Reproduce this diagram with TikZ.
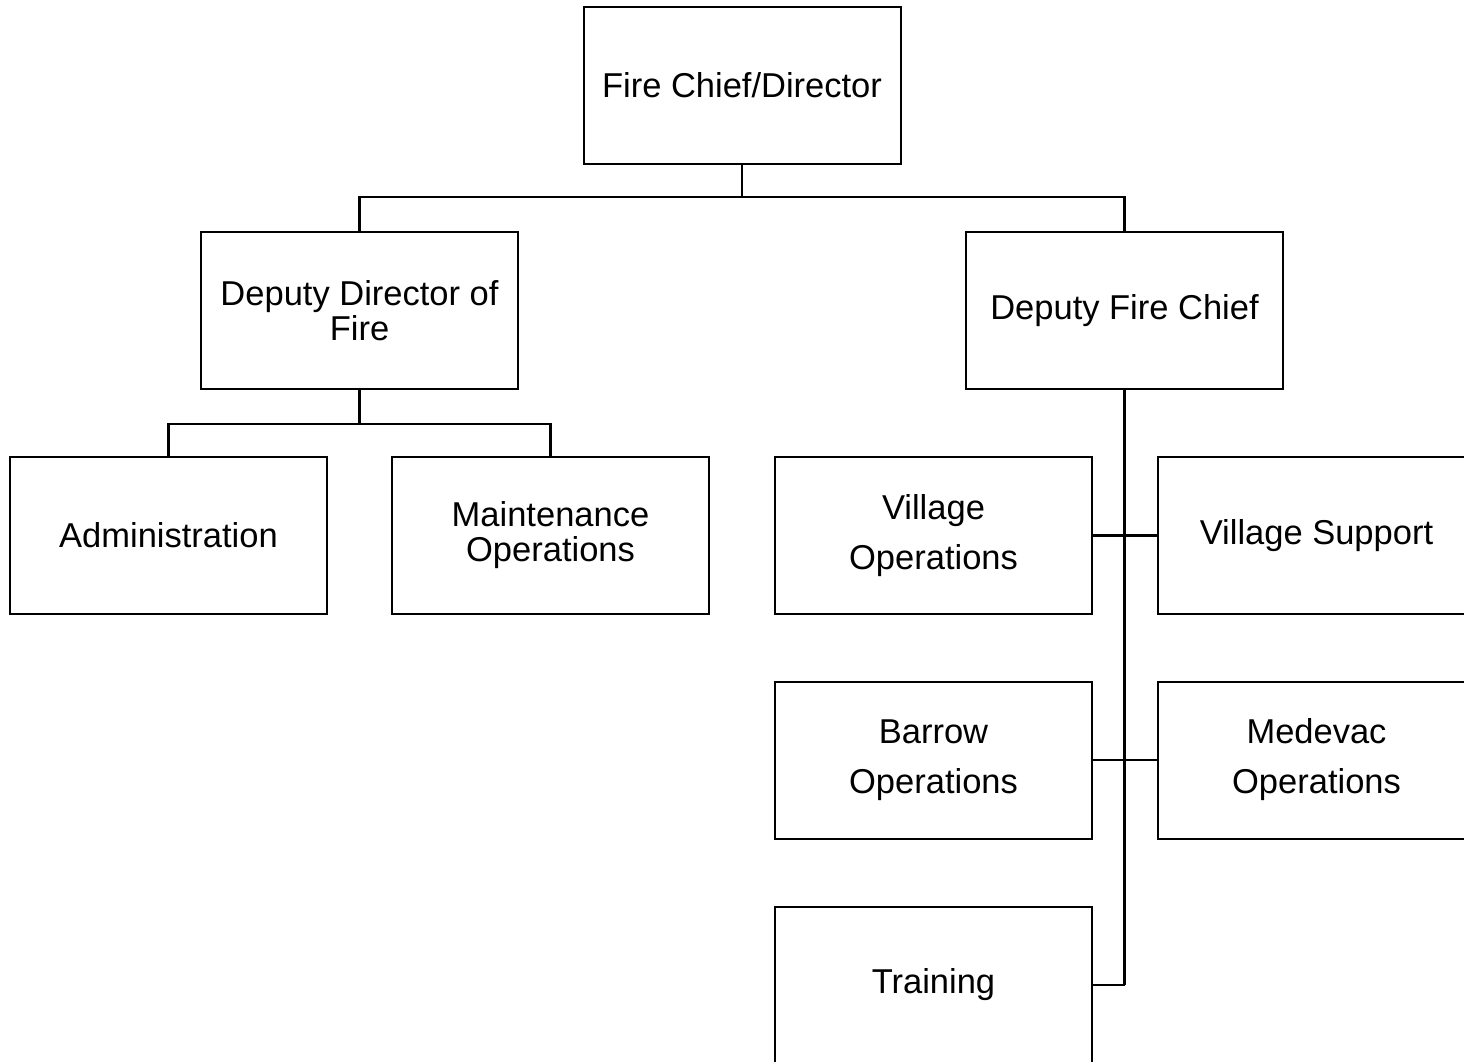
\documentclass[tikz,border=0pt]{standalone}
\usepackage{fontspec}
\setmainfont{Liberation Sans}
\begin{document}
\begin{tikzpicture}[x=1pt,y=-1pt,
  box/.style={draw=black,line width=2pt,minimum width=317pt,minimum height=157pt,inner sep=0pt,align=center,font=\fontsize{34.5}{50}\selectfont},
  tight/.style={font=\fontsize{34.5}{35}\selectfont},
  conn/.style={draw=black,line width=2.4pt}]
\useasboundingbox (0,0) rectangle (1464,1062);
\clip (0,0) rectangle (1464,1062);
\node[box] (chief) at (742,85.5) {Fire Chief/Director};
\node[box,tight] (ddf) at (359.5,310.5) {Deputy Director of\\Fire};
\node[box] (dfc) at (1124.5,310.5) {Deputy Fire Chief};
\node[box] (admin) at (168.5,535.5) {Administration};
\node[box,tight] (maint) at (550.5,535.5) {Maintenance\\Operations};
\node[box] (vops) at (933.5,535.5) {Village\\Operations};
\node[box] (vsup) at (1316.5,535.5) {Village Support};
\node[box] (bops) at (933.5,760) {Barrow\\Operations};
\node[box] (med) at (1316.5,760) {Medevac\\Operations};
\node[box] (train) at (933.5,985) {Training};
\coordinate (bus1) at (742,197);
\coordinate (bus2) at (359.5,424);
\draw[conn] (chief.south) -- (bus1);
\draw[conn] (ddf.north) |- (bus1) -| (dfc.north);
\draw[conn] (ddf.south) -- (bus2);
\draw[conn] (admin.north) |- (bus2) -| (maint.north);
\coordinate (trunkend) at (dfc.south |- train.east);
\draw[conn] (dfc.south) -- (trunkend);
\draw[conn] (vops.east) -- (vsup.west);
\draw[conn] (bops.east) -- (med.west);
\draw[conn] (train.east) -- (trunkend);
\end{tikzpicture}
\end{document}
